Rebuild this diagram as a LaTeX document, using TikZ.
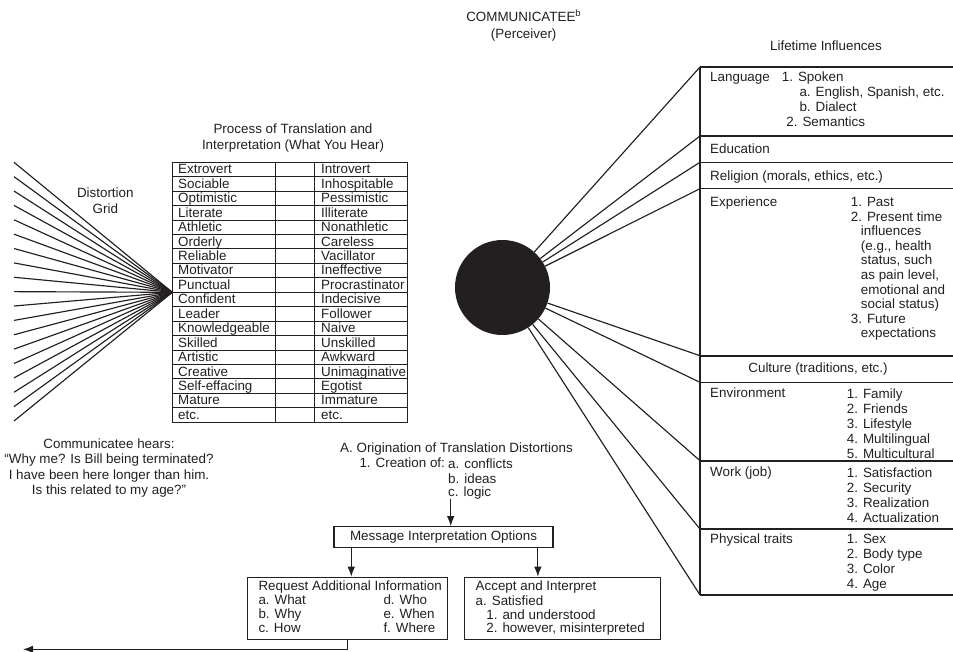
\documentclass[tikz,border=0pt]{standalone}
\usepackage{fontspec}
\setmainfont{Liberation Sans}
\usetikzlibrary{arrows.meta}
\definecolor{ink}{HTML}{231F20}
\newcommand\fsz[1]{\fontsize{13.4}{#1}\selectfont}
\begin{document}
\begin{tikzpicture}[x=1pt,y=-1pt,
  every node/.style={text=ink, inner sep=0pt},
  lbl/.style={anchor=base west, font=\fsz{15}},
  ml/.style={align=left, anchor=north west, font=\fsz{#1}}, ml/.default=15,
  mc/.style={align=center, anchor=north, font=\fsz{#1}}, mc/.default=15,
  ln/.style={draw=ink, line width=1.15pt},
  thick sep/.style={draw=ink, line width=1.9pt},
  tbl/.style={draw=ink, line width=1pt},
  arr/.style={ln, -{Latex[length=10pt,width=7.5pt]}},
  box/.style={draw=ink, line width=1.15pt}]
\useasboundingbox (0,0) rectangle (953,651);

% header
\node[mc=16.5] (comm) at (523.7,9.65) {\strut COMMUNICATEE\textsuperscript{b}\\(Perceiver)};
\node[anchor=base, font=\fsz{15}] (life) at (826,50.5) {Lifetime Influences};

% distortion grid
\node[mc=15.6] (dg) at (105.3,186.3) {\strut Distortion\\Grid};
\coordinate (tip) at (172.3,292.3);
\foreach \k in {0,...,18} {
  \coordinate (g\k) at (14,162.3+14.372*\k);
  \draw[ln] (tip) -- (g\k);
}

% table
\node[mc=16] (ttl) at (293,122.3) {\strut Process of Translation and\\Interpretation (What You Hear)};
\coordinate (tnw) at (172.3,162.3);
\coordinate (tse) at (407,422.3);
\draw[tbl] (tnw) rectangle (tse);
\draw[tbl] (275.7,162.3) -- (275.7,422.3);
\draw[tbl] (314.3,162.3) -- (314.3,422.3);
\foreach \i in {1,...,17} {
  \draw[tbl] (172.3,162.3+14.444*\i) -- (407,162.3+14.444*\i);
}
\foreach \l/\r [count=\i] in {Extrovert/Introvert, Sociable/Inhospitable,
  Optimistic/Pessimistic, Literate/Illiterate, Athletic/Nonathletic,
  Orderly/Careless, Reliable/Vacillator, Motivator/Ineffective,
  Punctual/Procrastinator, Confident/Indecisive, Leader/Follower,
  Knowledgeable/Naive, Skilled/Unskilled, Artistic/Awkward,
  Creative/Unimaginative, Self-effacing/Egotist, Mature/Immature, etc./etc.} {
  \node[lbl] (L\i) at (178,162.3+14.444*\i-2.9) {\l};
  \node[lbl] (R\i) at (321,162.3+14.444*\i-2.9) {\r};
}

% circle and rays to the panel
\node[circle, fill=ink, minimum size=95pt] (circ) at (502.5,287.5) {};
\foreach \y [count=\i] in {67,136,162.3,188.7,355.7,382.3,460.7,529,595} {
  \coordinate (p\i) at (700,\y);
  \coordinate (q\i) at (953,\y);
  \draw[ln] (circ) -- (p\i);
  \draw[ln] (p\i) -- (q\i);
}
\draw[thick sep] (p2) -- (q2);
\draw[thick sep] (p5) -- (q5);
\draw[thick sep] (p7) -- (q7);
\draw[ln] (p1) -- (p9);

% panel texts
\node[lbl] (lang) at (710,81.2) {Language};
\node[ml] (langl) at (781.7,70.7) {\strut 1. Spoken\\\hspace*{17.6pt}a. English, Spanish, etc.\\\hspace*{17.6pt}b. Dialect\\\hspace*{4.5pt}2. Semantics};
\node[lbl] (edu) at (710,153.7) {Education};
\node[lbl] (rel) at (710,180) {Religion (morals, ethics, etc.)};
\node[lbl] (exp) at (710,206.2) {Experience};
\node[ml=14.6] (expl) at (850.7,196) {\strut 1. Past\\2. Present time\\\hspace*{10pt}influences\\\hspace*{10pt}(e.g., health\\\hspace*{10pt}status, such\\\hspace*{10pt}as pain level,\\\hspace*{10pt}emotional and\\\hspace*{10pt}social status)\\3. Future\\\hspace*{10pt}expectations};
\node[anchor=base, font=\fsz{15}] (cul) at (818,372.8) {Culture (traditions, etc.)};
\node[lbl] (env) at (710,397.8) {Environment};
\node[ml] (envl) at (846.7,387.3) {\strut 1. Family\\2. Friends\\3. Lifestyle\\4. Multilingual\\5. Multicultural};
\node[lbl] (work) at (710,476.8) {Work (job)};
\node[ml=15.3] (workl) at (846.7,466.1) {\strut 1. Satisfaction\\2. Security\\3. Realization\\4. Actualization};
\node[lbl] (phys) at (710,543.5) {Physical traits};
\node[ml] (physl) at (846.7,533) {\strut 1. Sex\\2. Body type\\3. Color\\4. Age};

% communicatee hears
\node[mc=15.5] (hears) at (109,436.95) {\strut Communicatee hears:\\“Why me? Is Bill being terminated?\\I have been here longer than him.\\Is this related to my age?"};

% origination
\node[lbl] (o1) at (340,452.8) {A. Origination of Translation Distortions};
\node[lbl] (o2) at (359.3,467.8) {1. Creation of:};
\node[ml=13.4] (o3) at (448,458.4) {\strut a. conflicts\\b. ideas\\c. logic};

% message box and options
\node[box, minimum width=219pt, minimum height=21pt, font=\fsz{15}] (msg) at (443.5,537.2) {Message Interpretation Options};
\coordinate (oa) at ([xshift=2.7pt]o3.south west);
\draw[arr] (oa) -- (oa |- msg.north);

\node[box, minimum width=199.4pt, minimum height=62.3pt, anchor=north west] (req) at (247.3,576.7) {};
\node[anchor=north west, font=\fsz{13.5}] (reqt) at ([xshift=11pt,yshift=-4.15pt]req.north west)
  {\begin{tabular}{@{}p{125pt}@{}l@{}}\multicolumn{2}{@{}l@{}}{Request Additional Information}\\a. What & d. Who\\b. Why & e. When\\c. How & f. Where\end{tabular}};

\node[box, minimum width=196pt, minimum height=62.3pt, anchor=north west] (acc) at (464,576.7) {};
\node[ml=13.5] (acct) at ([xshift=11.5pt,yshift=-4.15pt]acc.north west)
  {\strut Accept and Interpret\\a. Satisfied\\\hspace*{10.7pt}1. and understood\\\hspace*{10.7pt}2. however, misinterpreted};

\coordinate (ra) at ([xshift=3.7pt]req.north);
\draw[arr] (ra |- msg.south) -- (ra);
\coordinate (aa) at ([xshift=-24.7pt]acc.north);
\draw[arr] (aa |- msg.south) -- (aa);

\coordinate (aend) at (23,649.3);
\draw[arr] (req.south) |- (aend);
\end{tikzpicture}
\end{document}
